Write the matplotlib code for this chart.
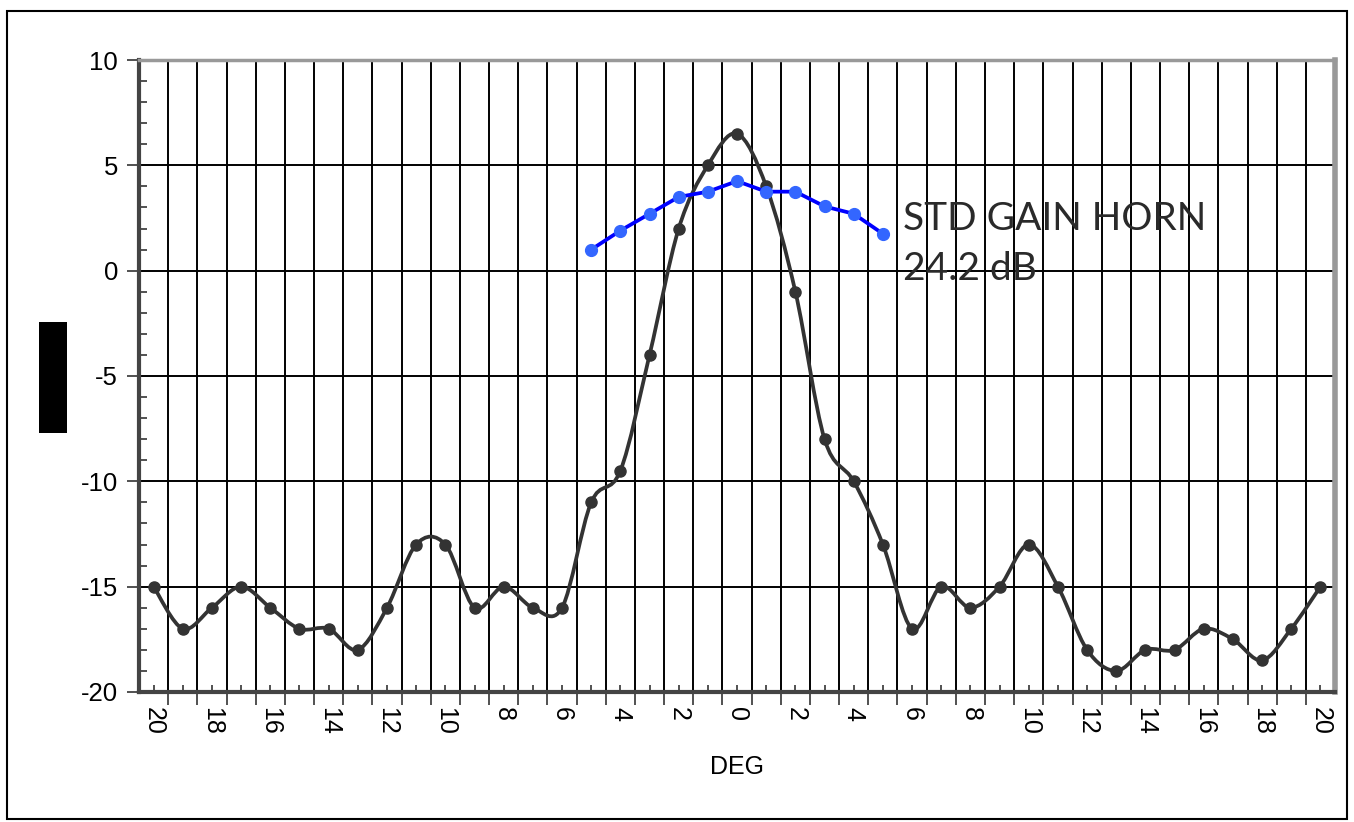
import numpy as np
import matplotlib
matplotlib.use('Agg')
import matplotlib.pyplot as plt
from matplotlib.path import Path
from matplotlib.patches import PathPatch, Rectangle
from matplotlib.ticker import FixedLocator, FuncFormatter

# antenna pattern, degrees off boresight
deg = list(range(-20, 21))
gain = [-15, -17, -16, -15, -16, -17, -17, -18, -16, -13,
        -13, -16, -15, -16, -16, -11, -9.5, -4, 2, 5,
        6.5, 4, -1, -8, -10, -13, -17, -15, -16, -15,
        -13, -15, -18, -19, -18, -18, -17, -17.5, -18.5, -17,
        -15]

# standard gain horn reference
horn_deg = list(range(-5, 6))
horn_gain = [1.0, 1.9, 2.7, 3.5, 3.75, 4.25, 3.75, 3.75, 3.05, 2.7, 1.75]

label_lines = ['STD GAIN HORN', '24.2 dB']
x_label = 'DEG'


def smoothPath(x, y):
    '''
        @summary: Excel-style smoothed line (cubic bezier, catmull-rom control points)
    '''
    pts = np.column_stack([x, y]).astype(float)
    n = len(pts)
    verts = [pts[0]]
    codes = [Path.MOVETO]
    for i in range(n - 1):
        p0 = pts[i - 1] if i > 0 else pts[i]
        p1 = pts[i]
        p2 = pts[i + 1]
        p3 = pts[i + 2] if i + 2 < n else pts[i + 1]
        c1 = p1 + (p2 - p0) / 6.0
        c2 = p2 - (p3 - p1) / 6.0
        verts += [c1, c2, p2]
        codes += [Path.CURVE4] * 3
    return Path(verts, codes)


plt.rcParams['font.family'] = ['Liberation Sans', 'DejaVu Sans']
plt.rcParams['axes.unicode_minus'] = False

fig = plt.figure(figsize=(13.54, 8.22), dpi=100)
ax = fig.add_axes([0.1027, 0.1582, 0.8833, 0.7688])

dark = '#333333'

# smoothed main pattern
ax.add_patch(PathPatch(smoothPath(deg, gain), fill=False, edgecolor=dark, lw=2.7, zorder=4))
ax.plot(deg, gain, ls='none', marker='o', ms=8, color=dark, zorder=5)

# horn reference
ax.plot(horn_deg, horn_gain, color='#0000ff', lw=2.7, marker='o', ms=8.5,
        markerfacecolor='#3366ff', markeredgecolor='#3366ff', zorder=6)

ax.set_xlim(-20.5, 20.5)
ax.set_ylim(-20, 10)

# x axis: points at integers, category boundaries carry the grid
ax.xaxis.set_major_locator(FixedLocator(deg))
ax.xaxis.set_minor_locator(FixedLocator(np.arange(-19.5, 20.0, 1.0)))
ax.xaxis.set_major_formatter(FuncFormatter(lambda v, p: str(abs(int(round(v)))) if int(round(v)) % 2 == 0 else ''))
ax.tick_params(axis='x', which='major', direction='in', length=5, width=1.2, color=dark,
               labelsize=18, labelrotation=270, pad=11)
ax.tick_params(axis='x', which='minor', direction='out', length=9, width=1.2, color=dark)
for lbl in ax.get_xticklabels():
    lbl.set_va('top')
    lbl.set_ha('center')

ax.set_yticks([-20, -15, -10, -5, 0, 5, 10])
ax.yaxis.set_minor_locator(FixedLocator(np.arange(-20, 11, 1)))
ax.tick_params(axis='y', which='major', direction='out', length=9, width=1.2, color=dark,
               labelsize=18.5, pad=6)
ax.tick_params(axis='y', which='minor', direction='in', length=6, width=1.2, color=dark)

ax.grid(True, axis='x', which='minor', color='black', lw=1.4)
ax.grid(True, axis='y', which='major', color='black', lw=1.4)
ax.set_axisbelow(True)

ax.spines['left'].set_color('#444444')
ax.spines['left'].set_linewidth(3)
ax.spines['bottom'].set_color('#444444')
ax.spines['bottom'].set_linewidth(3)
ax.spines['top'].set_color('#999999')
ax.spines['top'].set_linewidth(2.5)
ax.spines['right'].set_color('#999999')
ax.spines['right'].set_linewidth(4)

ax.set_xlabel(x_label, fontsize=18, labelpad=14)

ax.text(5.7, 2.47, label_lines[0], fontsize=28, family=['Lato', 'DejaVu Sans'],
        fontweight='normal', color='#2a2a2a', va='center', ha='left', zorder=7)
ax.text(5.7, 0.1, label_lines[1], fontsize=28, family=['Lato', 'DejaVu Sans'],
        fontweight='normal', color='#2a2a2a', va='center', ha='left', zorder=7)

# redacted y-axis title
fig.patches.append(Rectangle((39 / 1354, 1 - 433 / 822), 28 / 1354, 111 / 822,
                             transform=fig.transFigure, facecolor='black', edgecolor='none'))
# outer frame
fig.patches.append(Rectangle((7 / 1354, 1 - 819 / 822), 1340 / 1354, 808 / 822,
                             transform=fig.transFigure, facecolor='none', edgecolor='black', lw=1.5))

fig.savefig('out.png', dpi=100)
